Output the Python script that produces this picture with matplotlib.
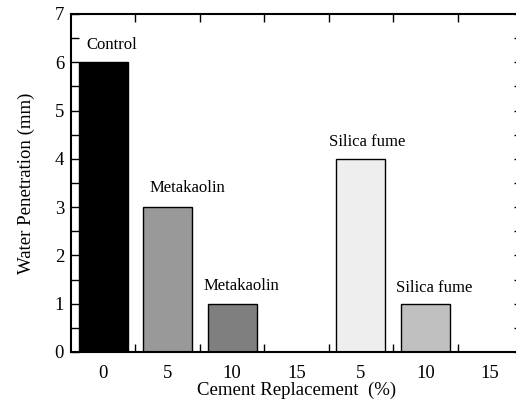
import matplotlib
matplotlib.use("Agg")
import matplotlib.pyplot as plt
from matplotlib.ticker import MultipleLocator, FixedLocator

categories = ["0", "5", "10", "15", "5", "10", "15"]
values = [6, 3, 1, 0, 4, 1, 0]
colors = ["#000000", "#999999", "#7f7f7f", "#ffffff", "#eeeeee", "#c0c0c0", "#ffffff"]
annot_text = ["Control", "Metakaolin", "Metakaolin", "Silica fume", "Silica fume"]
annot_bar = [0, 1, 2, 4, 5]

plt.rcParams['font.family'] = ['Liberation Serif', 'DejaVu Serif']

fig = plt.figure(figsize=(5.16, 4.0), dpi=100)
W, H = 516, 400
left, right, top, bottom = 71, 522, 14, 352
ax = fig.add_axes([left / W, 1 - bottom / H, (right - left) / W, (bottom - top) / H])

x = list(range(len(categories)))
nonzero = [v > 0 for v in values]
ax.bar([xi for xi, nz in zip(x, nonzero) if nz],
       [v for v, nz in zip(values, nonzero) if nz],
       width=0.76,
       color=[c for c, nz in zip(colors, nonzero) if nz],
       edgecolor="black", linewidth=1.0)

ax.set_xlim(-0.5, len(categories) - 0.5)
ax.set_ylim(0, 7)

ax.xaxis.set_major_locator(FixedLocator(x))
ax.set_xticklabels(categories, fontsize=13.5)
ax.xaxis.set_minor_locator(FixedLocator([i + 0.5 for i in x[:-1]]))
ax.tick_params(axis='x', which='major', length=0, pad=9)
ax.tick_params(axis='x', which='minor', direction='in', length=6, width=1, top=True, bottom=True)

ax.yaxis.set_major_locator(MultipleLocator(1))
ax.yaxis.set_minor_locator(MultipleLocator(0.5))
ax.tick_params(axis='y', which='both', direction='in', length=6, width=1, left=True, right=True, labelsize=13.5, pad=5)

for s in ax.spines.values():
    s.set_linewidth(1.5)

offsets = [-0.26, -0.28, -0.44, -0.5, -0.45]
heights = [0.36, 0.4, 0.37, 0.35, 0.33]
for t, b, o, h in zip(annot_text, annot_bar, offsets, heights):
    ax.text(b + o, values[b] + h, t, ha='left', va='center', fontsize=12)

ax.set_xlabel("Cement Replacement  (%)", fontsize=13.5, labelpad=0)
ax.set_ylabel("Water Penetration (mm)", fontsize=13.5, labelpad=14)

fig.savefig("out.png", dpi=100)
